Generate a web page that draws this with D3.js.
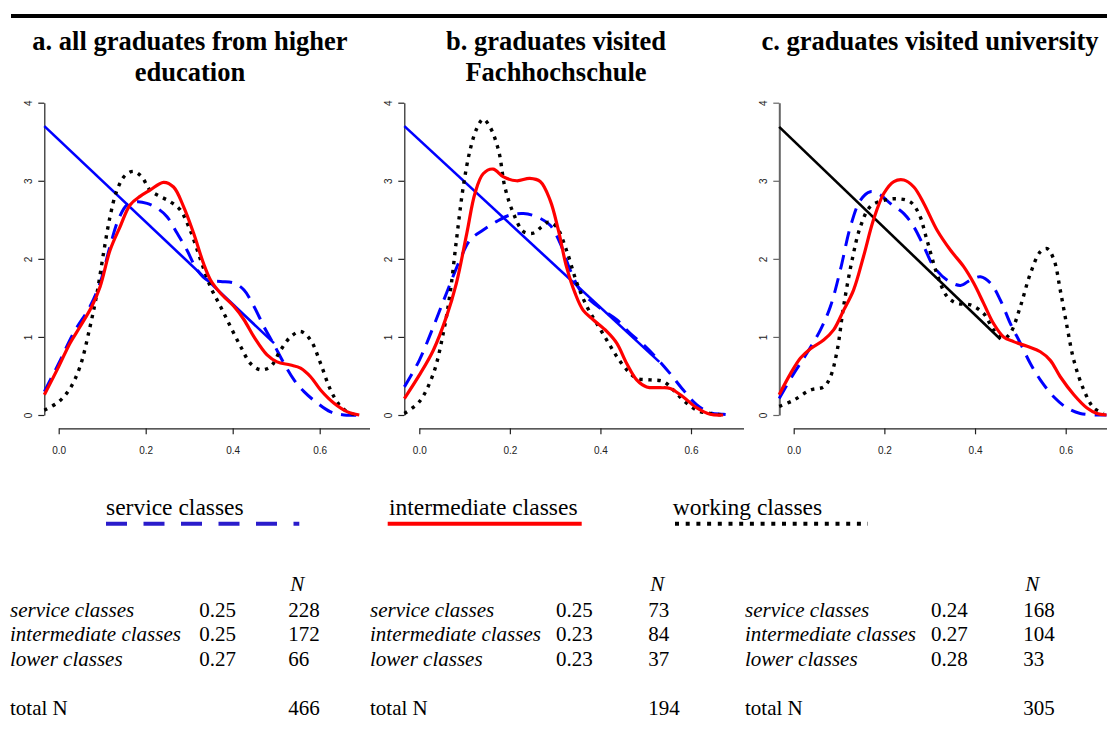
<!DOCTYPE html>
<html>
<head>
<meta charset="utf-8">
<script src="https://cdn.jsdelivr.net/npm/d3@7"></script>
<style>
html,body{margin:0;padding:0;background:#fff;}
svg{display:block;}
</style>
</head>
<body>
<svg id="chart" width="1107" height="738"></svg>
<script>
// ---------- DATA ----------
const panelIds = ["a", "b", "c"];
const titles = [
  ["a. all graduates from higher", "education"],
  ["b. graduates visited", "Fachhochschule"],
  ["c. graduates visited university"]
];
const xTicks = [0, 0.2, 0.4, 0.6];
const yTicks = [0, 1, 2, 3, 4];

// panel a
const serviceA = [[-0.033,0.30],[0,0.66],[0.034,1.05],[0.072,1.39],[0.095,1.69],[0.118,2.16],[0.137,2.50],[0.157,2.69],[0.18,2.73],[0.203,2.71],[0.226,2.65],[0.249,2.54],[0.272,2.33],[0.295,2.11],[0.318,1.86],[0.341,1.73],[0.372,1.71],[0.403,1.69],[0.426,1.60],[0.449,1.39],[0.472,1.13],[0.495,0.90],[0.518,0.66],[0.541,0.45],[0.564,0.30],[0.595,0.15],[0.625,0.04],[0.656,0.0],[0.691,0.0]];
const intermediateA = [[-0.033,0.26],[0,0.62],[0.026,0.92],[0.049,1.13],[0.076,1.39],[0.095,1.64],[0.118,2.11],[0.141,2.41],[0.164,2.69],[0.187,2.80],[0.21,2.88],[0.241,2.98],[0.264,2.92],[0.287,2.67],[0.31,2.33],[0.333,1.94],[0.349,1.73],[0.372,1.56],[0.403,1.39],[0.426,1.22],[0.449,1.0],[0.479,0.77],[0.502,0.68],[0.533,0.64],[0.556,0.60],[0.579,0.49],[0.602,0.32],[0.633,0.15],[0.664,0.04],[0.691,0.0]];
const workingA = [[-0.033,0.06],[0,0.17],[0.026,0.34],[0.049,0.62],[0.072,1.13],[0.088,1.56],[0.103,2.07],[0.118,2.54],[0.134,2.88],[0.153,3.07],[0.172,3.12],[0.191,3.05],[0.21,2.88],[0.233,2.80],[0.257,2.73],[0.279,2.63],[0.302,2.37],[0.326,1.99],[0.349,1.64],[0.372,1.39],[0.395,1.13],[0.418,0.88],[0.441,0.66],[0.464,0.58],[0.487,0.62],[0.51,0.83],[0.533,1.0],[0.556,1.07],[0.579,0.96],[0.602,0.66],[0.625,0.32],[0.648,0.11],[0.671,0.02],[0.691,0.0]];
const refLineA = [[-0.033,3.70],[0.495,0.92]];

// panel b
const serviceB = [[-0.033,0.36],[0,0.70],[0.031,1.13],[0.06,1.56],[0.09,1.99],[0.112,2.24],[0.141,2.37],[0.171,2.48],[0.2,2.56],[0.23,2.58],[0.259,2.54],[0.289,2.43],[0.311,2.20],[0.333,1.86],[0.355,1.60],[0.377,1.47],[0.406,1.34],[0.436,1.22],[0.465,1.05],[0.495,0.90],[0.524,0.73],[0.554,0.53],[0.583,0.32],[0.613,0.13],[0.642,0.03],[0.671,0.01],[0.69,0.0]];
const intermediateB = [[-0.033,0.21],[0,0.51],[0.031,0.83],[0.06,1.26],[0.082,1.69],[0.105,2.33],[0.123,2.84],[0.141,3.09],[0.163,3.15],[0.186,3.05],[0.215,3.0],[0.244,3.03],[0.267,2.99],[0.289,2.75],[0.307,2.37],[0.325,1.90],[0.344,1.56],[0.362,1.34],[0.384,1.22],[0.414,1.07],[0.436,0.92],[0.458,0.66],[0.48,0.45],[0.502,0.36],[0.532,0.35],[0.554,0.34],[0.583,0.23],[0.613,0.09],[0.642,0.01],[0.671,0.0]];
const workingB = [[-0.033,0.02],[0,0.17],[0.031,0.53],[0.053,1.05],[0.068,1.56],[0.082,2.24],[0.097,2.92],[0.112,3.39],[0.127,3.67],[0.141,3.79],[0.156,3.69],[0.175,3.39],[0.189,2.92],[0.208,2.58],[0.23,2.35],[0.252,2.33],[0.27,2.41],[0.285,2.47],[0.303,2.41],[0.325,2.11],[0.348,1.69],[0.37,1.39],[0.392,1.17],[0.414,0.96],[0.436,0.75],[0.458,0.58],[0.48,0.47],[0.51,0.45],[0.539,0.43],[0.561,0.32],[0.583,0.19],[0.613,0.06],[0.642,0.02],[0.671,0.0]];
const refLineB = [[-0.033,3.70],[0.53,0.68]];

// panel c
const serviceC = [[-0.032,0.21],[0,0.53],[0.029,0.79],[0.059,1.09],[0.081,1.39],[0.103,1.86],[0.125,2.41],[0.147,2.75],[0.169,2.86],[0.191,2.82],[0.213,2.71],[0.243,2.58],[0.265,2.41],[0.287,2.16],[0.309,1.90],[0.338,1.73],[0.368,1.66],[0.39,1.73],[0.412,1.77],[0.434,1.69],[0.456,1.47],[0.478,1.17],[0.5,0.92],[0.522,0.66],[0.544,0.45],[0.574,0.23],[0.603,0.09],[0.632,0.02],[0.669,0.0],[0.69,0.0]];
const intermediateC = [[-0.032,0.26],[-0.007,0.53],[0.015,0.73],[0.037,0.85],[0.066,0.96],[0.088,1.09],[0.11,1.34],[0.132,1.60],[0.154,2.03],[0.176,2.50],[0.199,2.84],[0.221,2.99],[0.243,3.01],[0.265,2.92],[0.287,2.71],[0.316,2.37],[0.346,2.11],[0.375,1.90],[0.397,1.69],[0.419,1.43],[0.441,1.17],[0.463,1.0],[0.485,0.94],[0.515,0.88],[0.544,0.81],[0.566,0.70],[0.588,0.49],[0.618,0.26],[0.647,0.09],[0.669,0.02],[0.69,0.0]];
const workingC = [[-0.032,0.11],[0,0.19],[0.037,0.32],[0.066,0.36],[0.081,0.49],[0.096,0.83],[0.11,1.39],[0.129,1.99],[0.147,2.41],[0.169,2.67],[0.199,2.75],[0.228,2.77],[0.257,2.73],[0.276,2.58],[0.294,2.24],[0.316,1.81],[0.338,1.52],[0.36,1.43],[0.39,1.41],[0.419,1.30],[0.441,1.09],[0.463,0.98],[0.478,1.05],[0.5,1.39],[0.522,1.81],[0.544,2.09],[0.559,2.13],[0.574,1.99],[0.588,1.60],[0.603,1.13],[0.618,0.70],[0.64,0.32],[0.662,0.09],[0.684,0.02]];
const refLineC = [[-0.032,3.69],[0.456,0.97]];

// legend
const legendLabels = ["service classes", "intermediate classes", "working classes"];

// tables
const tableClasses = ["service classes", "intermediate classes", "lower classes"];
const meansA = [0.25, 0.25, 0.27];
const countsA = [228, 172, 66];
const meansB = [0.25, 0.23, 0.23];
const countsB = [73, 84, 37];
const meansC = [0.24, 0.27, 0.28];
const countsC = [168, 104, 33];
const totals = [466, 194, 305];

// ---------- DRAWING ----------
const svg = d3.select("#chart");
const serif = "'Liberation Serif','Times New Roman',Times,serif";
const sans = "'Liberation Sans',Arial,Helvetica,sans-serif";

// top rule
svg.append("rect").attr("x", 11).attr("y", 14).attr("width", 1107 - 11).attr("height", 4).attr("fill", "#000");

const panels = [
  {clip:[0,370], x0:58.7, x06:319.7, yAxisX:44.3, titleX:190, service:serviceA, inter:intermediateA, work:workingA, ref:refLineA, refColor:"#0000ff", axisColor:"#222"},
  {clip:[370,744], x0:419.3, x06:691.0, yAxisX:404.3, titleX:556, service:serviceB, inter:intermediateB, work:workingB, ref:refLineB, refColor:"#0000ff", axisColor:"#222"},
  {clip:[744,1107], x0:793.7, x06:1065.7, yAxisX:779.3, titleX:930, service:serviceC, inter:intermediateC, work:workingC, ref:refLineC, refColor:"#000000", axisColor:"#666"}
];

const y = d3.scaleLinear().domain([0, 4]).range([415, 102.7]);
const xAxisY = 428.3;

panels.forEach((p, i) => {
  const x = d3.scaleLinear().domain([0, 0.6]).range([p.x0, p.x06]);
  const clipId = "clip" + panelIds[i];
  svg.append("clipPath").attr("id", clipId)
    .append("rect").attr("x", p.clip[0]).attr("y", 0).attr("width", p.clip[1] - p.clip[0]).attr("height", 480);
  const g = svg.append("g").attr("clip-path", `url(#${clipId})`);

  // title
  const t = svg.append("text").attr("text-anchor", "middle")
    .attr("font-family", serif).attr("font-weight", "bold").attr("font-size", 26.5).attr("fill", "#000");
  titles[i].forEach((line, k) => {
    t.append("tspan").attr("x", p.titleX).attr("y", 50 + k * 30.5).text(line);
  });

  // x axis (axis line runs on toward 0.8, cut at the panel edge)
  const xa = x.copy().domain([0, 0.8]).range([x(0), x(0.8)]);
  const gx = g.append("g").attr("transform", `translate(0,${xAxisY})`)
    .call(d3.axisBottom(xa).tickValues(xTicks).tickFormat(d3.format(".1f")).tickSize(6).tickSizeOuter(0));
  gx.select(".domain").attr("stroke", "#222").attr("stroke-width", 1.2);
  gx.selectAll(".tick line").attr("stroke", "#222").attr("stroke-width", 1.2);
  gx.selectAll(".tick text").attr("y", 26).attr("dy", 0).attr("font-family", sans).attr("font-size", 10).attr("fill", "#222");

  // y axis
  const gy = g.append("g").attr("transform", `translate(${p.yAxisX},0)`)
    .call(d3.axisLeft(y).tickValues(yTicks).tickFormat(d3.format("d")).tickSize(6).tickSizeOuter(0));
  gy.select(".domain").attr("stroke", p.axisColor).attr("stroke-width", i === 2 ? 2 : 1.2);
  gy.selectAll(".tick line").attr("stroke", p.axisColor).attr("stroke-width", 1.2);
  gy.selectAll(".tick text").attr("x", 0).attr("dy", 0)
    .attr("transform", "translate(-12,0) rotate(-90)")
    .attr("text-anchor", "middle").attr("font-family", sans).attr("font-size", 10).attr("fill", "#222");

  const line = d3.line().x(d => x(d[0])).y(d => y(d[1])).curve(d3.curveCatmullRom.alpha(0.5));
  const straight = d3.line().x(d => x(d[0])).y(d => y(d[1]));

  g.append("path").datum(p.ref).attr("d", straight).attr("fill", "none")
    .attr("stroke", p.refColor).attr("stroke-width", 2.6);
  g.append("path").datum(p.service).attr("d", line).attr("fill", "none")
    .attr("stroke", "#0000ff").attr("stroke-width", 3).attr("stroke-dasharray", "15,9");
  g.append("path").datum(p.work).attr("d", line).attr("fill", "none")
    .attr("stroke", "#000").attr("stroke-width", 3.4).attr("stroke-dasharray", "3.4,5.6");
  g.append("path").datum(p.inter).attr("d", line).attr("fill", "none")
    .attr("stroke", "#ff0000").attr("stroke-width", 3.2);
});

// legend
const legendItems = [
  {tx:106, x1:106, x2:299.3, color:"#2a1ccb", dash:"21,16.5"},
  {tx:389, x1:387.7, x2:581.7, color:"#ff0000", dash:null},
  {tx:672.7, x1:675, x2:868, color:"#000000", dash:"4,6.7"}
];
legendItems.forEach((it, i) => {
  svg.append("text").attr("x", it.tx).attr("y", 515).attr("font-family", serif)
    .attr("font-size", 23.5).attr("fill", "#000").text(legendLabels[i]);
  const l = svg.append("line").attr("x1", it.x1).attr("x2", it.x2).attr("y1", 523.7).attr("y2", 523.7)
    .attr("stroke", it.color).attr("stroke-width", 4);
  if (it.dash) l.attr("stroke-dasharray", it.dash);
});

// tables
const tableCols = [
  {lx:10, mx:199.3, nx:288.3, means:meansA, counts:countsA},
  {lx:370, mx:556, nx:648.3, means:meansB, counts:countsB},
  {lx:745, mx:931, nx:1023.3, means:meansC, counts:countsC}
];
const rowY = [616.5, 641, 665.5];
tableCols.forEach((c, i) => {
  const tg = svg.append("g").attr("font-family", serif).attr("font-size", 21).attr("fill", "#000");
  tg.append("text").attr("x", c.nx + 2).attr("y", 591).attr("font-style", "italic").text("N");
  tableClasses.forEach((name, r) => {
    tg.append("text").attr("x", c.lx).attr("y", rowY[r]).attr("font-style", "italic").text(name);
    tg.append("text").attr("x", c.mx).attr("y", rowY[r]).text(d3.format(".2f")(c.means[r]));
    tg.append("text").attr("x", c.nx).attr("y", rowY[r]).text(c.counts[r]);
  });
  tg.append("text").attr("x", c.lx).attr("y", 715).text("total N");
  tg.append("text").attr("x", c.nx).attr("y", 715).text(totals[i]);
});
</script>
</body>
</html>
